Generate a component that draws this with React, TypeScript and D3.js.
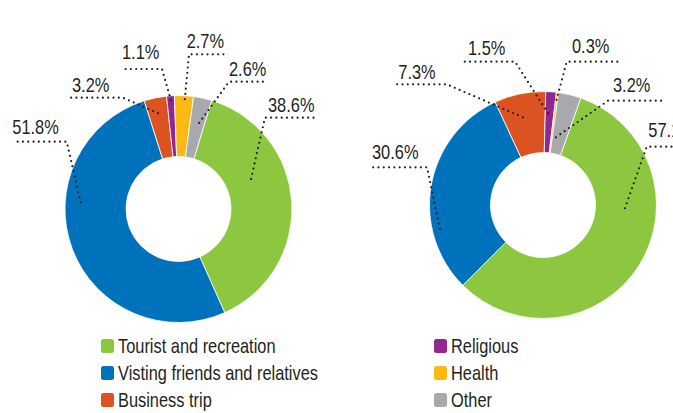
import React from "react";
import * as d3 from "d3";

const categories = [
  "Tourist and recreation",
  "Visting friends and relatives",
  "Business trip",
  "Religious",
  "Health",
  "Other",
];
const leftValues = [38.6, 51.8, 3.2, 1.1, 2.7, 2.6];
const rightValues = [57.1, 30.6, 7.3, 1.5, 0.3, 3.2];
const leftLabels = ["38.6%", "51.8%", "3.2%", "1.1%", "2.7%", "2.6%"];
const rightLabels = ["57.1%", "30.6%", "7.3%", "1.5%", "0.3%", "3.2%"];

const colors = ["#8DC63F", "#0071BB", "#DC5220", "#92278F", "#FDB913", "#A7A9AC"];

const W = 673;
const H = 413;
const OUTER = 113.5;
const INNER = 52.5;
const FONT = "'Liberation Sans', Arial, sans-serif";
const SX = 0.82;
const TEXT_COLOR = "#231F20";

type LabelLayout = {
  da: number; r: number;
  ex: number; ey: number; lx1: number; lx2: number;
  tx: number; ty: number;
};

const leftLayout: LabelLayout[] = [
  { da: -19, r: 78.5, ex: 86.5, ey: -91.3, lx1: 86.5, lx2: 139.5, tx: 89.5, ty: -96.7 },
  { da: 24.7, r: 98, ex: -111.8, ey: -67.3, lx1: -163.5, lx2: -111.8, tx: -166.2, ty: -75 },
  { da: -0.3, r: 98, ex: -55.5, ey: -111.3, lx1: -108.5, lx2: -55.5, tx: -106.5, ty: -117 },
  { da: 0.1, r: 109, ex: -16.5, ey: -140, lx1: -56.5, lx2: -16.5, tx: -56.5, ty: -150 },
  { da: 0.5, r: 110, ex: 10.5, ey: -154.7, lx1: 10.5, lx2: 48.5, tx: 8.2, ty: -161.3 },
  { da: 1.2, r: 88.5, ex: 50.5, ey: -127.3, lx1: 50.5, lx2: 89.5, tx: 50.5, ty: -133 },
];

const rightLayout: LabelLayout[] = [
  { da: -29.9, r: 82, ex: 103.7, ey: -58.3, lx1: 103.7, lx2: 170, tx: 105.3, ty: -68.3 },
  { da: -23, r: 105.8, ex: -116, ey: -37.7, lx1: -170, lx2: -116, tx: -171, ty: -46 },
  { da: -1.2, r: 90, ex: -96.3, ey: -120.7, lx1: -150, lx2: -96.3, tx: -144.7, ty: -126 },
  { da: -1, r: 92, ex: -28, ey: -143.3, lx1: -81.3, lx2: -28, tx: -75, ty: -150 },
  { da: 0, r: 106, ex: 23.7, ey: -143.3, lx1: 23.7, lx2: 77, tx: 29, ty: -152 },
  { da: -2.8, r: 69, ex: 65, ey: -104.3, lx1: 65, lx2: 118.7, tx: 70, ty: -113.3 },
];

function Label({ x, y, children }: { x: number; y: number; children: React.ReactNode }) {
  return (
    <text
      transform={`translate(${x},${y}) scale(${SX},1)`}
      fontFamily={FONT}
      fontSize={20}
      fill={TEXT_COLOR}
    >
      {children}
    </text>
  );
}

type DonutProps = {
  cx: number; cy: number; values: number[]; labels: string[];
  startDeg: number; layout: LabelLayout[];
};

function Donut({ cx, cy, values, labels, startDeg, layout }: DonutProps) {
  const start = (startDeg * Math.PI) / 180;
  const pie = d3
    .pie<number>()
    .sort(null)
    .value((d) => d)
    .startAngle(start)
    .endAngle(start + 2 * Math.PI);
  const arcs = pie(values);
  const arc = d3.arc<d3.PieArcDatum<number>>().innerRadius(INNER).outerRadius(OUTER);
  const line = d3.line();

  return (
    <g transform={`translate(${cx},${cy})`}>
      {arcs.map((a, i) => (
        <path key={i} d={arc(a) || ""} fill={colors[i]} stroke="#fff" strokeWidth={0.8} />
      ))}
      {arcs.map((a, i) => {
        const L = layout[i];
        const mid = (a.startAngle + a.endAngle) / 2 + (L.da * Math.PI) / 180;
        const px = L.r * Math.sin(mid);
        const py = -L.r * Math.cos(mid);
        const otherX = L.ex === L.lx1 ? L.lx2 : L.lx1;
        const d = line([
          [px, py],
          [L.ex, L.ey],
          [otherX, L.ey],
        ]);
        return (
          <g key={"l" + i}>
            <path
              d={d || ""}
              fill="none"
              stroke="#231F20"
              strokeWidth={2.2}
              strokeLinecap="round"
              strokeDasharray="0 5.3"
            />
            <Label x={L.tx} y={L.ty}>{labels[i]}</Label>
          </g>
        );
      })}
    </g>
  );
}

export default function App() {
  const legendRows = d3.scaleBand<number>().domain([0, 1, 2]).range([339, 420]).paddingInner(0);
  const legendCols = [101, 434];
  return (
    <svg
      width={W}
      height={H}
      viewBox={`0 0 ${W} ${H}`}
      style={{ position: "absolute", left: 0, top: 0, background: "#fff" }}
    >
      <rect width={W} height={H} fill="#fff" />
      <Donut cx={178.5} cy={209} values={leftValues} labels={leftLabels} startDeg={17} layout={leftLayout} />
      <Donut cx={543} cy={205} values={rightValues} labels={rightLabels} startDeg={19.4} layout={rightLayout} />
      {categories.map((c, i) => {
        const col = Math.floor(i / 3);
        const row = i % 3;
        const x = legendCols[col];
        const y = legendRows(row) as number;
        return (
          <g key={c}>
            <rect x={x} y={y} width={13} height={14} rx={2.5} fill={colors[i]} />
            <Label x={x + 17} y={y + 14}>{c}</Label>
          </g>
        );
      })}
    </svg>
  );
}
